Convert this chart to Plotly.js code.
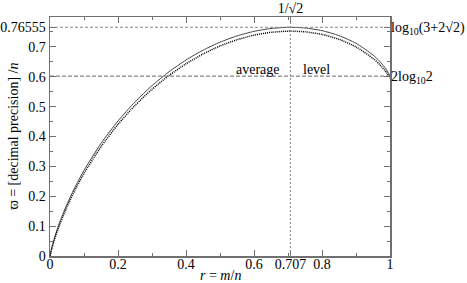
<!DOCTYPE html>
<html>
<head>
<meta charset="utf-8">
<script src="https://cdn.plot.ly/plotly-3.0.1.min.js"></script>
<style>html,body{margin:0;padding:0;background:#fff;}#chart{width:467px;height:283px;}</style>
</head>
<body>
<div id="chart"></div>
<script>
// r = m/n
const rValues = [0, 0.005, 0.01, 0.02, 0.03, 0.05, 0.075, 0.1, 0.15, 0.2, 0.25, 0.3, 0.35, 0.4, 0.45, 0.5,
  0.55, 0.6, 0.65, 0.7, 0.7071, 0.75, 0.8, 0.85, 0.9, 0.95, 0.97, 0.99, 1];
// asymptotic curve (solid)
const asymptotic = [0, 0.0274, 0.0487, 0.0853, 0.1174, 0.1735, 0.2338, 0.2867, 0.3770, 0.4521, 0.5159, 0.5703,
  0.6167, 0.6560, 0.6889, 0.7157, 0.7367, 0.7520, 0.7616, 0.7655, 0.76555, 0.7632, 0.7543, 0.7378,
  0.7120, 0.6729, 0.6514, 0.6234, 0.6021];
// finite-n values (dotted)
const finiteN = [0, 0.0230, 0.0430, 0.0783, 0.1096, 0.1646, 0.2241, 0.2764, 0.3659, 0.4406, 0.5039, 0.5581,
  0.6043, 0.6435, 0.6762, 0.7029, 0.7238, 0.7391, 0.7488, 0.7527, 0.7527, 0.7505, 0.7417, 0.7254,
  0.6999, 0.6615, 0.6406, 0.6136, 0.5951];

const xTickVals = [0, 0.2, 0.4, 0.6, 0.707, 0.8, 1];
const xTickText = ['0', '0.2', '0.4', '0.6', '0.707', '0.8', '1'];
const xMinorVals = [0.1, 0.3, 0.5, 0.7, 0.9];
const yTickVals = [0, 0.1, 0.2, 0.3, 0.4, 0.5, 0.6, 0.7, 0.76555];
const yTickText = ['0', '0.1', '0.2', '0.3', '0.4', '0.5', '0.6', '0.7', '0.76555'];
const yMinorVals = [0.05, 0.15, 0.25, 0.35, 0.45, 0.55, 0.65, 0.75];
const rightTickVals = [0.76555, 0.60206];
const rightTickText = ['log<sub>10</sub>(3+2√2)', '2log<sub>10</sub>2'];
const topTickVals = [0.70711];
const topTickText = ['1/√2'];

const peakLevel = 0.76555;
const averageLevel = 0.60206;
const peakR = 0.70711;

const FONT = '"Liberation Serif", "Times New Roman", Times, serif';
const axisColor = '#707070';

const traces = [
  {x: rValues, y: asymptotic, type: 'scatter', mode: 'lines', line: {color: '#444', width: 1, shape: 'spline', smoothing: 0.6}, hoverinfo: 'skip'},
  {x: rValues, y: finiteN, type: 'scatter', mode: 'lines', line: {color: '#000', width: 1.5, dash: '1px,1px', shape: 'spline', smoothing: 0.6}, hoverinfo: 'skip'},
  {x: [0, 1], y: [0, 0], xaxis: 'x2', yaxis: 'y2', mode: 'none', type: 'scatter', hoverinfo: 'skip'}
];

const layout = {
  width: 467, height: 283,
  margin: {l: 50, r: 77, t: 17, b: 27},
  paper_bgcolor: '#fff', plot_bgcolor: '#fff',
  showlegend: false,
  font: {family: FONT, size: 14, color: '#000'},
  xaxis: {
    range: [0, 1], tickmode: 'array', tickvals: xTickVals, ticktext: xTickText,
    ticks: 'inside', ticklen: 6, tickwidth: 1, tickcolor: axisColor,
    showline: true, linecolor: axisColor, linewidth: 1.5, mirror: 'allticks',
    showgrid: false, zeroline: false, ticklabelstandoff: -5,
    minor: {tickmode: 'array', tickvals: xMinorVals, ticks: 'inside', ticklen: 3, tickcolor: axisColor, showgrid: false},
    tickfont: {family: FONT, size: 14, color: '#000'}
  },
  yaxis: {
    range: [0, 0.8], tickmode: 'array', tickvals: yTickVals, ticktext: yTickText,
    ticks: 'inside', ticklen: 6, tickwidth: 1, tickcolor: axisColor,
    showline: true, linecolor: axisColor, linewidth: 1.5, mirror: 'allticks',
    showgrid: false, zeroline: false,
    minor: {tickmode: 'array', tickvals: yMinorVals, ticks: 'inside', ticklen: 3, tickcolor: axisColor, showgrid: false},
    tickfont: {family: FONT, size: 14, color: '#000'}
  },
  xaxis2: {
    overlaying: 'x', side: 'top', range: [0, 1], tickmode: 'array', tickvals: topTickVals, ticktext: topTickText,
    ticks: '', showline: false, showgrid: false, zeroline: false,
    tickfont: {family: FONT, size: 14, color: '#000'}
  },
  yaxis2: {
    overlaying: 'y', side: 'right', range: [0, 0.8], tickmode: 'array', tickvals: rightTickVals, ticktext: rightTickText,
    ticks: '', showline: false, showgrid: false, zeroline: false,
    tickfont: {family: FONT, size: 14, color: '#000'}
  },
  shapes: [
    {type: 'line', xref: 'x', yref: 'y', x0: 0, x1: 1, y0: peakLevel, y1: peakLevel, line: {color: '#888', width: 1, dash: '3px,2px'}},
    {type: 'line', xref: 'x', yref: 'y', x0: 0, x1: 1, y0: averageLevel, y1: averageLevel, line: {color: '#666', width: 1, dash: '4px,2px'}},
    {type: 'line', xref: 'x', yref: 'y', x0: peakR, x1: peakR, y0: 0, y1: 0.8, line: {color: '#888', width: 1, dash: '2px,2px'}}
  ],
  annotations: [
    {text: 'average', xref: 'x', yref: 'y', x: 0.683, y: averageLevel, xanchor: 'right', yanchor: 'bottom', showarrow: false, yshift: -3, font: {family: FONT, size: 14, color: '#000'}},
    {text: 'level', xref: 'x', yref: 'y', x: 0.737, y: averageLevel, xanchor: 'left', yanchor: 'bottom', showarrow: false, yshift: -3, font: {family: FONT, size: 14, color: '#000'}},
    {text: 'ϖ = [decimal precision] /<i>n</i>', xref: 'paper', yref: 'paper', x: 0, y: 0.5, xanchor: 'center', yanchor: 'middle', xshift: -37, textangle: -90, showarrow: false, font: {family: FONT, size: 14, color: '#000'}},
    {text: '<i>r</i> = <i>m</i>/<i>n</i>', xref: 'paper', yref: 'paper', x: 0.5, y: 0, xanchor: 'center', yanchor: 'middle', yshift: -19, showarrow: false, font: {family: FONT, size: 14, color: '#000'}}
  ]
};

Plotly.newPlot('chart', traces, layout, {displayModeBar: false, staticPlot: true});
</script>
</body>
</html>
